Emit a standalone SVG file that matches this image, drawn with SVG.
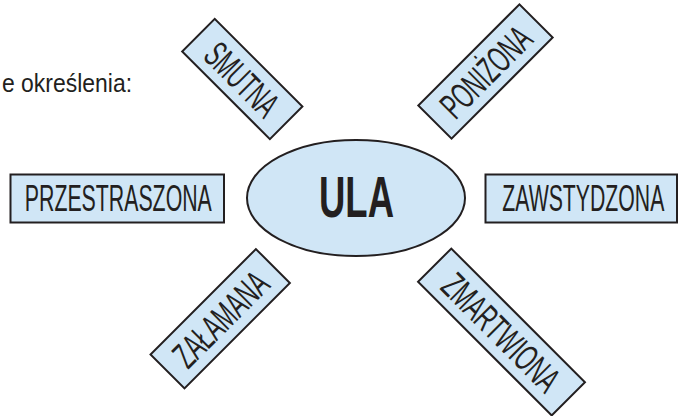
<svg xmlns="http://www.w3.org/2000/svg" width="681" height="416" viewBox="0 0 681 416">
<style>
.box{fill:#d0e6f6;stroke:#231f20;stroke-width:2}
.lbl{font-family:"Liberation Sans",Arial,sans-serif;font-size:37px;fill:#231f20;text-anchor:middle}
.big{font-family:"Liberation Sans",Arial,sans-serif;font-size:58px;font-weight:bold;fill:#231f20;text-anchor:middle}
.note{font-family:"Liberation Sans",Arial,sans-serif;font-size:26px;fill:#231f20}
</style>
<rect width="681" height="416" fill="#ffffff"/>
<text class="note" x="2" y="92" textLength="130" lengthAdjust="spacingAndGlyphs">e określenia:</text>
<g id="connectors"></g>
<g id="ula">
<ellipse class="box" cx="356" cy="198" rx="109" ry="58"/>
<text class="big" x="356.5" y="217" textLength="75" lengthAdjust="spacingAndGlyphs">ULA</text>
</g>
<g id="przestraszona">
<rect class="box" x="10.5" y="174.5" width="213.5" height="48"/>
<text class="lbl" x="118.3" y="211" textLength="187" lengthAdjust="spacingAndGlyphs">PRZESTRASZONA</text>
</g>
<g id="zawstydzona">
<rect class="box" x="485.5" y="174.5" width="191.5" height="48"/>
<text class="lbl" x="583.3" y="211" textLength="162" lengthAdjust="spacingAndGlyphs">ZAWSTYDZONA</text>
</g>
<g id="smutna" transform="translate(242.3,79) rotate(45)">
<rect class="box" x="-62" y="-23" width="124" height="46"/>
<text class="lbl" x="0" y="13.5" textLength="88" lengthAdjust="spacingAndGlyphs">SMUTNA</text>
</g>
<g id="ponizona" transform="translate(485.5,71.5) rotate(-45)">
<rect class="box" x="-71.5" y="-23.5" width="143" height="47"/>
<text class="lbl" x="0" y="13.5" textLength="112" lengthAdjust="spacingAndGlyphs">PONIŻONA</text>
</g>
<g id="zalamana" transform="translate(220.2,318.7) rotate(-45)">
<rect class="box" x="-74.5" y="-24" width="149" height="48"/>
<text class="lbl" x="0" y="13.5" textLength="118" lengthAdjust="spacingAndGlyphs">ZAŁAMANA</text>
</g>
<g id="zmartwiona" transform="translate(501.5,332) rotate(45)">
<rect class="box" x="-94.5" y="-23.5" width="189" height="47"/>
<text class="lbl" x="0" y="13.5" textLength="150" lengthAdjust="spacingAndGlyphs">ZMARTWIONA</text>
</g>
</svg>
